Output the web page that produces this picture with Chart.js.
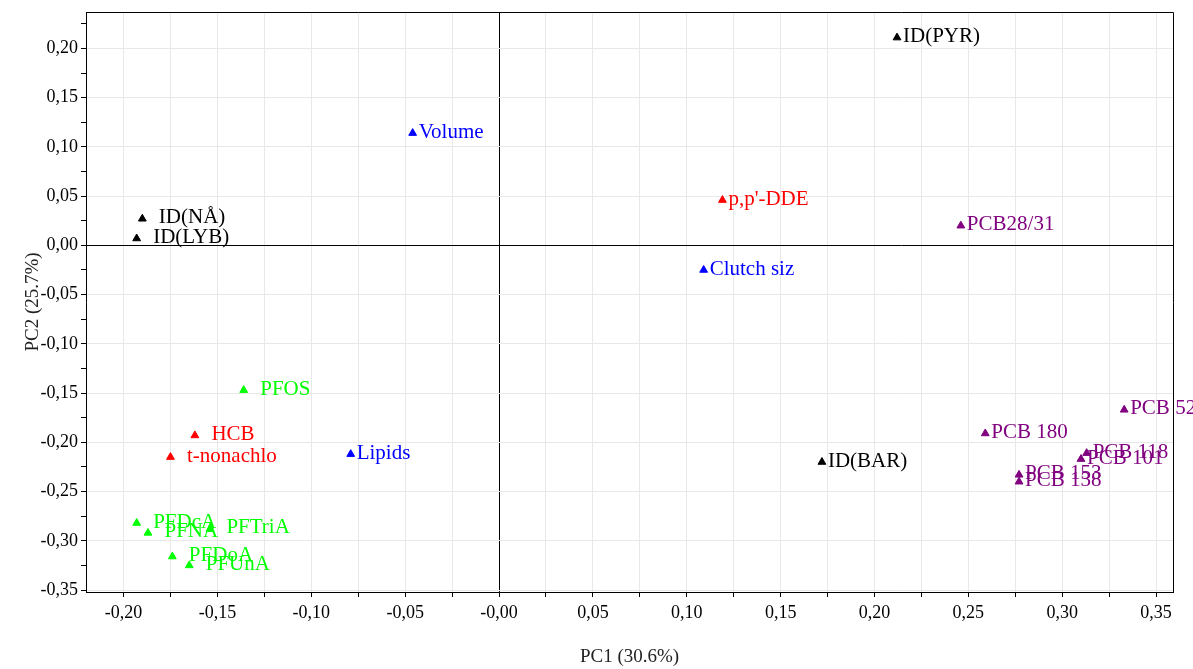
<!DOCTYPE html>
<html>
<head>
<meta charset="utf-8">
<script src="https://cdn.jsdelivr.net/npm/chart.js@4"></script>
<style>
  html, body { margin: 0; padding: 0; background: #fff; }
</style>
</head>
<body>
<canvas id="pcaChart" width="1193" height="669"></canvas>
<script>
// PCA loadings, PC1 vs PC2
const idNames = ["ID(PYR)", "  ID(NÅ)", "  ID(LYB)", "ID(BAR)"]
const idPC1 = [0.212, -0.190, -0.193, 0.172]
const idPC2 = [0.211, 0.027, 0.007, -0.220]

const physNames = ["Volume", "Clutch siz", "Lipids"]
const physPC1 = [-0.046, 0.109, -0.079]
const physPC2 = [0.114, -0.025, -0.212]

const ocNames = ["p,p'-DDE", "  HCB", "  t-nonachlo"]
const ocPC1 = [0.119, -0.162, -0.175]
const ocPC2 = [0.046, -0.193, -0.215]

const pfasNames = ["  PFOS", "  PFDcA", "  PFNA", "  PFTriA", "  PFDoA", "  PFUnA"]
const pfasPC1 = [-0.136, -0.193, -0.187, -0.154, -0.174, -0.165]
const pfasPC2 = [-0.147, -0.282, -0.292, -0.288, -0.316, -0.325]

const pcbNames = ["PCB28/31", "PCB 52", "PCB 180", "PCB 118", "PCB 101", "PCB 153", "PCB 138"]
const pcbPC1 = [0.246, 0.333, 0.259, 0.313, 0.310, 0.277, 0.277]
const pcbPC2 = [0.020, -0.167, -0.191, -0.211, -0.217, -0.233, -0.240]

const xMajorTicks = [-0.20, -0.15, -0.10, -0.05, 0, 0.05, 0.10, 0.15, 0.20, 0.25, 0.30, 0.35]
const xTickLabels = ["-0,20", "-0,15", "-0,10", "-0,05", "-0,00", "0,05", "0,10", "0,15", "0,20", "0,25", "0,30", "0,35"]
const yMajorTicks = [-0.35, -0.30, -0.25, -0.20, -0.15, -0.10, -0.05, 0, 0.05, 0.10, 0.15, 0.20]
const yTickLabels = ["-0,35", "-0,30", "-0,25", "-0,20", "-0,15", "-0,10", "-0,05", "0,00", "0,05", "0,10", "0,15", "0,20"]

const FONT = "Liberation Serif"

// major ticks plus the half steps in between (and one past the last)
function withMinor(majors, extraTop) {
    const out = []
    majors.forEach((v, i) => {
        out.push(v)
        if (i < majors.length - 1 || extraTop)
            out.push(Math.round((v + 0.025) * 1000) / 1000)
    })
    return out
}
const xTicks = withMinor(xMajorTicks, false)
const yTicks = withMinor(yMajorTicks, true)

function isMajor(v) {
    return Math.abs(Math.round(v * 1000) % 50) === 0
}
function labelFor(v, majors, labels) {
    const i = majors.findIndex(m => Math.abs(m - v) < 1e-6)
    return i < 0 ? "" : labels[i]
}
function pts(xs, ys) {
    return xs.map((x, i) => ({ x: x, y: ys[i] }))
}
function group(names, xs, ys, color) {
    return {
        labels: names,
        data: pts(xs, ys),
        backgroundColor: color,
        borderColor: color,
        pointStyle: "triangle",
        pointRadius: 4.5,
        pointBorderWidth: 1
    }
}

const pointLabels = {
    id: "pointLabels",
    afterDatasetsDraw(chart) {
        const ctx = chart.ctx
        ctx.save()
        ctx.font = "21px '" + FONT + "'"
        ctx.textBaseline = "middle"
        chart.data.datasets.forEach((ds, i) => {
            ctx.fillStyle = ds.borderColor
            chart.getDatasetMeta(i).data.forEach((p, j) => {
                ctx.fillText(ds.labels[j], p.x + 6, p.y - 1)
            })
        })
        ctx.restore()
    }
}

// top and right edges of the plot frame
const frame = {
    id: "frame",
    beforeDatasetsDraw(chart) {
        const a = chart.chartArea
        const ctx = chart.ctx
        ctx.save()
        ctx.strokeStyle = "#000"
        ctx.lineWidth = 1
        ctx.beginPath()
        ctx.moveTo(Math.round(a.left) + 0.5, Math.round(a.top) + 0.5)
        ctx.lineTo(Math.round(a.right) + 0.5, Math.round(a.top) + 0.5)
        ctx.lineTo(Math.round(a.right) + 0.5, Math.round(a.bottom) + 0.5)
        ctx.stroke()
        ctx.restore()
    }
}

new Chart(document.getElementById("pcaChart"), {
    type: "scatter",
    data: {
        datasets: [
            group(idNames, idPC1, idPC2, "#000000"),
            group(physNames, physPC1, physPC2, "#0000ff"),
            group(ocNames, ocPC1, ocPC2, "#ff0000"),
            group(pfasNames, pfasPC1, pfasPC2, "#00ff00"),
            group(pcbNames, pcbPC1, pcbPC2, "#800080")
        ]
    },
    options: {
        responsive: false,
        animation: false,
        layout: { padding: { top: 12, right: 20, left: 0, bottom: 0 } },
        plugins: { legend: { display: false }, tooltip: { enabled: false } },
        scales: {
            x: {
                type: "linear",
                min: -0.22,
                max: 0.359,
                afterBuildTicks: s => { s.ticks = xTicks.map(v => ({ value: v })) },
                afterFit: s => {
                    s.height = 77
                    s.paddingLeft = 0
                    s.paddingRight = 0
                },
                border: { color: "#000", width: 1 },
                grid: {
                    color: c => (c.tick && c.tick.value === 0) ? "#000" : "#e8e8e8",
                    tickColor: "#000",
                    tickLength: 5
                },
                ticks: {
                    autoSkip: false,
                    maxRotation: 0,
                    padding: 5,
                    color: "#000",
                    font: { family: FONT, size: 18 },
                    callback: v => labelFor(v, xMajorTicks, xTickLabels)
                },
                title: {
                    display: true,
                    text: "PC1 (30.6%)",
                    color: "#222",
                    font: { family: FONT, size: 19 },
                    padding: { top: 0, bottom: 1 }
                }
            },
            y: {
                type: "linear",
                min: -0.352,
                max: 0.237,
                afterBuildTicks: s => { s.ticks = yTicks.map(v => ({ value: v })) },
                afterFit: s => {
                    s.width = 86
                    s.paddingTop = 0
                    s.paddingBottom = 0
                },
                border: { color: "#000", width: 1 },
                grid: {
                    color: c => {
                        if (!c.tick) return "#e8e8e8"
                        if (c.tick.value === 0) return "#000"
                        return isMajor(c.tick.value) ? "#e8e8e8" : "rgba(0,0,0,0)"
                    },
                    tickColor: "#000",
                    tickLength: 5
                },
                ticks: {
                    autoSkip: false,
                    padding: 3,
                    color: "#000",
                    font: { family: FONT, size: 18 },
                    callback: v => labelFor(v, yMajorTicks, yTickLabels)
                },
                title: {
                    display: true,
                    text: "PC2 (25.7%)",
                    color: "#222",
                    font: { family: FONT, size: 19 },
                    padding: { top: 22, bottom: 0 }
                }
            }
        }
    },
    plugins: [pointLabels, frame]
})
</script>
</body>
</html>
